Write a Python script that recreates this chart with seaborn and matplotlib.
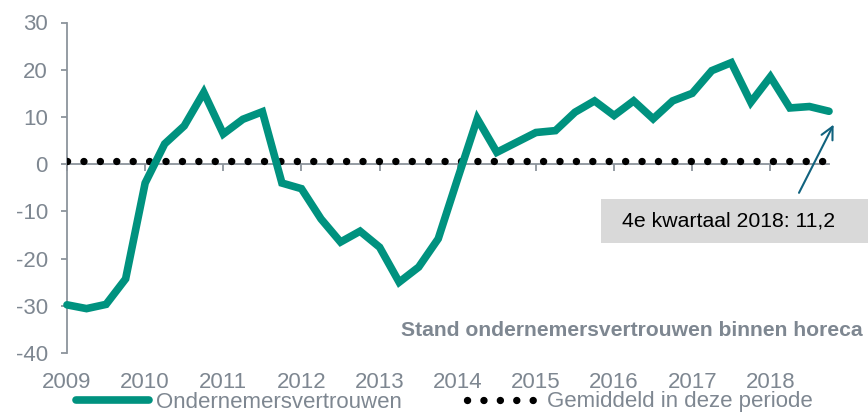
import matplotlib
matplotlib.use("Agg")
import matplotlib.pyplot as plt
from matplotlib.patches import Rectangle
import seaborn as sns
import pandas as pd

# ---- data ----
years = ["2009", "2010", "2011", "2012", "2013", "2014", "2015", "2016", "2017", "2018"]
quarter_index = list(range(40))
vertrouwen = [-29.8, -30.6, -29.7, -24.3, -4.0, 4.3, 8.1, 15.2,
              6.4, 9.5, 11.1, -4.0, -5.2, -11.6, -16.5, -14.2,
              -17.6, -25.0, -21.8, -15.8, -3.0, 9.6, 2.5, 4.6,
              6.7, 7.1, 11.0, 13.4, 10.3, 13.4, 9.6, 13.4,
              15.0, 19.8, 21.5, 13.1, 18.5, 11.9, 12.2, 11.2]
gemiddeld_waarde = 0.6
yticks = [-40, -30, -20, -10, 0, 10, 20, 30]
label_line = "Ondernemersvertrouwen"
label_avg = "Gemiddeld in deze periode"
annot_text = "4e kwartaal 2018: 11,2"
title_text = "Stand ondernemersvertrouwen binnen horeca"

df = pd.DataFrame({"kwartaal": quarter_index, "waarde": vertrouwen,
                   "gemiddeld": [gemiddeld_waarde] * len(quarter_index)})

TEAL = "#00927F"
GRAY = "#7E8791"
SPINE = "#8C949C"

sns.set_style("white")
plt.rcParams["font.family"] = ["Liberation Sans", "DejaVu Sans"]

W, H = 868, 413
fig = plt.figure(figsize=(W / 100, H / 100), dpi=100)
ax = fig.add_axes([67 / W, (H - 353) / H, 762 / W, (353 - 22.5) / H])

sns.lineplot(data=df, x="kwartaal", y="gemiddeld", ax=ax, color="black",
             linewidth=5.3, dashes=False, label=label_avg, zorder=3)
avg_line = ax.lines[-1]
avg_line.set_linestyle((0, (0.01, 2.22)))
avg_line.set_dash_capstyle("round")

sns.lineplot(data=df, x="kwartaal", y="waarde", ax=ax, color=TEAL,
             linewidth=5.5, label=label_line, zorder=4)
main_line = ax.lines[-1]
main_line.set_clip_on(False)
main_line.set_solid_joinstyle("miter")

ax.set_xlim(0, 39)
ax.set_ylim(-40, 30)
ax.set_xlabel("")
ax.set_ylabel("")

# spines
for s in ["top", "right"]:
    ax.spines[s].set_visible(False)
ax.spines["left"].set_color(SPINE)
ax.spines["left"].set_linewidth(1.3)
ax.spines["bottom"].set_position(("data", 0))
ax.spines["bottom"].set_color(SPINE)
ax.spines["bottom"].set_linewidth(1.3)
ax.spines["bottom"].set_zorder(2)

ax.set_yticks(yticks)
ax.set_yticklabels([str(v) for v in yticks])
ax.tick_params(axis="y", direction="out", length=4.3, width=1.3, color=SPINE,
               labelsize=16, labelcolor=GRAY, pad=9.4, left=True)

year_ticks = quarter_index[::4]
ax.set_xticks(year_ticks)
ax.tick_params(axis="x", direction="out", length=5, width=1.3, color=SPINE,
               labelbottom=False, bottom=True)

sec = ax.secondary_xaxis(0)
sec.set_xticks(year_ticks)
sec.set_xticklabels(years)
sec.spines["bottom"].set_visible(False)
sec.tick_params(axis="x", length=0, labelsize=16, labelcolor=GRAY, pad=14)

# legend
ax.get_legend().remove()
handles = [main_line, avg_line]
leg = fig.legend(handles, [label_line, label_avg], loc="center",
                 bbox_to_anchor=(444.5 / W, 11 / H), ncol=2, frameon=False,
                 fontsize=16, labelcolor=GRAY, handlelength=3.3,
                 handletextpad=0.3, columnspacing=2.95, borderpad=0,
                 borderaxespad=0)

# chart caption
fig.text(863 / W, (H - 330) / H, title_text, ha="right", va="center",
         fontsize=15.2, fontweight="bold", color=GRAY)

# annotation box
fig.add_artist(Rectangle((601 / W, (H - 243) / H), (W - 601) / W, 44 / H,
                         transform=fig.transFigure, facecolor="#D9D9D9",
                         edgecolor="none", zorder=1))
fig.text(729 / W, (H - 221) / H, annot_text, ha="center", va="center",
         fontsize=15.3, color="black", zorder=2)

ax.annotate("", xy=(39.3, 8.9), xytext=(37.4, -6.6),
            arrowprops=dict(arrowstyle="->", color="#10627E", lw=1.5,
                            mutation_scale=22),
            annotation_clip=False, zorder=5)

fig.savefig("out.png", dpi=100)
